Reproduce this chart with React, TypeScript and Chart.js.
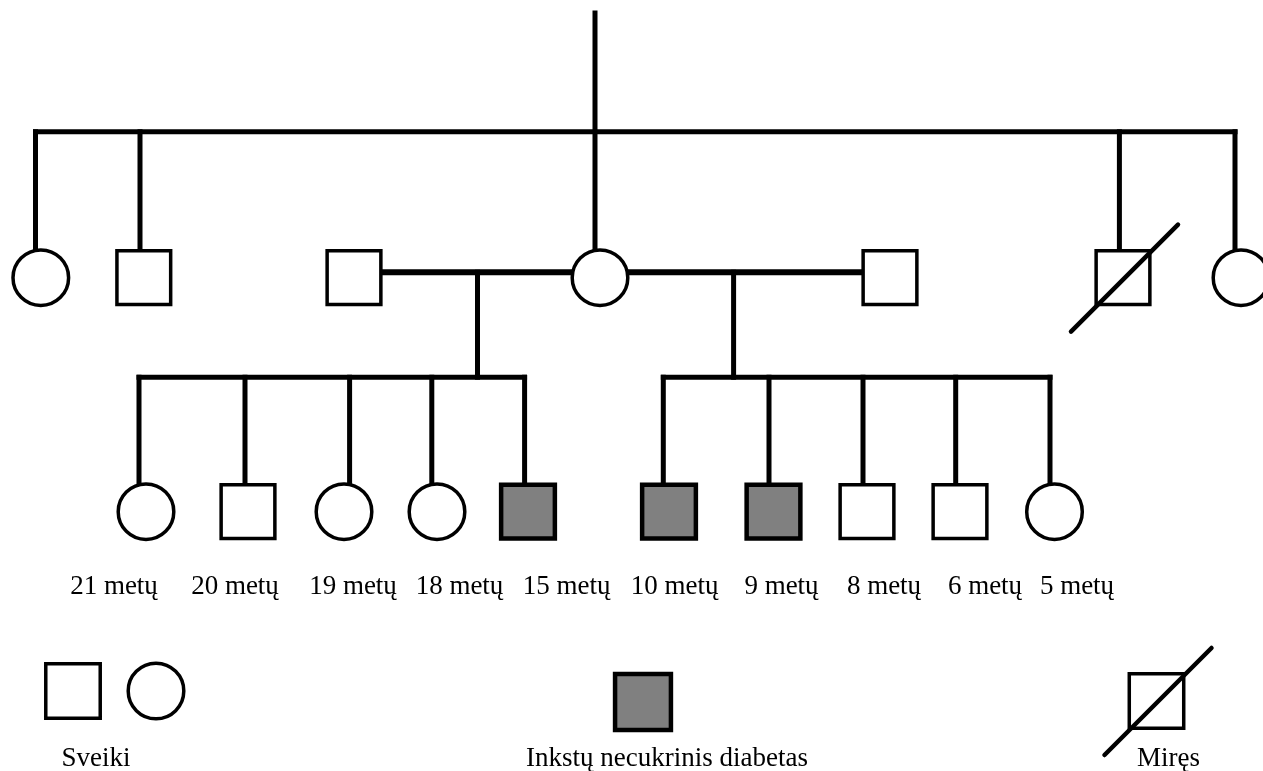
import React, { useEffect, useRef } from "react";
import { Chart, registerables } from "chart.js";

Chart.register(...registerables);

// ---------- Generation II: the mother, her siblings and her two partners ----------
const gen2Sex = ["F", "M", "M", "F", "M", "M", "F"];
const gen2X = [40.8, 143.8, 354, 600, 890, 1123, 1241];
const gen2Deceased = [false, false, false, false, false, true, false];
// x where each sibling hangs from the sibship line (null = married-in partner)
const gen2DropX = [35.5, 140, null, 595, null, 1119.4, 1235];

// ---------- Generation III: children of the two marriages ----------
const childLabels = ["21 metų", "20 metų", "19 metų", "18 metų", "15 metų", "10 metų", "9 metų", "8 metų", "6 metų", "5 metų"];
const childSex = ["F", "M", "F", "F", "M", "M", "M", "M", "M", "F"];
const childAffected = [false, false, false, false, true, true, true, false, false, false];
const childMarriage = [0, 0, 0, 0, 0, 1, 1, 1, 1, 1];
const childX = [146, 248, 344, 437, 528, 669, 773.5, 867, 960, 1054.5];
const childDropX = [139, 245, 349.6, 431.8, 524.6, 663.3, 769, 863, 955.7, 1050];
const childLabelX = [114, 235, 353, 459.5, 566.7, 674.7, 781.5, 884, 985, 1077];

// ---------- Marriages: partner index, mother index, descent line x ----------
const marriagePartner = [2, 4];
const marriageMother = [3, 3];
const marriageDescentX = [477.5, 733.6];

// ---------- Row levels ----------
const levelTop = 13;
const levelSib2 = 131.7;
const levelMarriage = 272.2;
const levelGen2 = 277.7;
const levelSib3 = 377.3;
const levelGen3 = 511.7;
const levelAge = 594;

// ---------- Legend ----------
const legendSymbolSex = ["M", "F", "M", "M"];
const legendSymbolFill = [false, false, true, false];
const legendSymbolDeceased = [false, false, false, true];
const legendSymbolX = [73, 156, 643, 1156.5];
const legendSymbolY = [691, 691, 702, 701];
const legendLabels = ["Sveiki", "Inkstų necukrinis diabetas", "Miręs"];
const legendLabelX = [96, 667, 1168.5];
const levelLegendText = 766;

// slash of a deceased symbol, offsets from its centre
const slashFrom = [-52, 54];
const slashTo = [55, -53];

const BLACK = "#000000";
const GREY = "#808080";
const WHITE = "#ffffff";

type Seg = { x1: number; y1: number; x2: number; y2: number; w: number };

function buildSegments(): Seg[] {
  const s: Seg[] = [];
  // line from the top down to the mother
  s.push({ x1: gen2DropX[3] as number, y1: levelTop, x2: gen2DropX[3] as number, y2: levelGen2, w: 5 });
  // sibship line of generation II
  const drops = gen2DropX.filter((v) => v !== null) as number[];
  s.push({ x1: Math.min(...drops), y1: levelSib2, x2: Math.max(...drops), y2: levelSib2, w: 5 });
  gen2DropX.forEach((d, i) => {
    if (d === null || i === 3) return;
    s.push({ x1: d, y1: levelSib2, x2: d, y2: levelGen2, w: 5 });
  });
  // marriages and descent lines
  marriagePartner.forEach((p, m) => {
    const a = gen2X[p];
    const b = gen2X[marriageMother[m]];
    s.push({ x1: Math.min(a, b), y1: levelMarriage, x2: Math.max(a, b), y2: levelMarriage, w: 6 });
    const dx = marriageDescentX[m];
    s.push({ x1: dx, y1: levelMarriage, x2: dx, y2: levelSib3, w: 5 });
    const kids = childDropX.filter((_, i) => childMarriage[i] === m);
    s.push({ x1: Math.min(...kids), y1: levelSib3, x2: Math.max(...kids), y2: levelSib3, w: 5 });
  });
  childDropX.forEach((d) => s.push({ x1: d, y1: levelSib3, x2: d, y2: levelGen3, w: 5 }));
  return s;
}

const SQUARE_R = 38; // rect point radius -> side = r * sqrt(2)
const CIRCLE_R = 27.8;

const textPlugin = {
  id: "pedigreeText",
  afterDatasetsDraw(chart: any) {
    const { ctx } = chart;
    const x = chart.scales.x;
    const y = chart.scales.y;
    ctx.save();
    ctx.fillStyle = BLACK;
    ctx.font = "27px 'Liberation Serif', 'Times New Roman', serif";
    ctx.textAlign = "center";
    ctx.textBaseline = "alphabetic";
    childLabels.forEach((t, i) => {
      ctx.fillText(t, x.getPixelForValue(childLabelX[i]), y.getPixelForValue(levelAge));
    });
    legendLabels.forEach((t, i) => {
      ctx.fillText(t, x.getPixelForValue(legendLabelX[i]), y.getPixelForValue(levelLegendText));
    });
    ctx.restore();
  },
};

export default function App() {
  const ref = useRef<HTMLCanvasElement | null>(null);

  useEffect(() => {
    if (!ref.current) return;
    const datasets: any[] = [];

    buildSegments().forEach((sg) => {
      datasets.push({
        data: [
          { x: sg.x1, y: sg.y1 },
          { x: sg.x2, y: sg.y2 },
        ],
        showLine: true,
        borderColor: BLACK,
        borderWidth: sg.w,
        borderCapStyle: "square",
        pointRadius: 0,
        fill: false,
        order: 3,
        clip: false,
      });
    });

    // generation II symbols
    datasets.push({
      data: gen2X.map((v) => ({ x: v, y: levelGen2 })),
      pointStyle: gen2Sex.map((s) => (s === "M" ? "rect" : "circle")),
      pointRadius: gen2Sex.map((s) => (s === "M" ? SQUARE_R : CIRCLE_R)),
      pointBackgroundColor: WHITE,
      pointBorderColor: BLACK,
      pointBorderWidth: 3.5,
      showLine: false,
      order: 2,
      clip: false,
    });

    // generation III symbols
    datasets.push({
      data: childX.map((v) => ({ x: v, y: levelGen3 })),
      pointStyle: childSex.map((s) => (s === "M" ? "rect" : "circle")),
      pointRadius: childSex.map((s) => (s === "M" ? SQUARE_R : CIRCLE_R)),
      pointBackgroundColor: childAffected.map((a) => (a ? GREY : WHITE)),
      pointBorderColor: BLACK,
      pointBorderWidth: childAffected.map((a) => (a ? 4.5 : 3.5)),
      showLine: false,
      order: 2,
      clip: false,
    });

    // legend symbols
    datasets.push({
      data: legendSymbolX.map((v, i) => ({ x: v, y: legendSymbolY[i] })),
      pointStyle: legendSymbolSex.map((s) => (s === "M" ? "rect" : "circle")),
      pointRadius: legendSymbolSex.map((s, i) => (s === "M" ? (legendSymbolFill[i] ? 39.5 : 38.5) : CIRCLE_R)),
      pointBackgroundColor: legendSymbolFill.map((f) => (f ? GREY : WHITE)),
      pointBorderColor: BLACK,
      pointBorderWidth: legendSymbolFill.map((f) => (f ? 4.5 : 3.5)),
      showLine: false,
      order: 2,
      clip: false,
    });

    // deceased slashes
    const slashCentres: { x: number; y: number }[] = [];
    gen2X.forEach((v, i) => {
      if (gen2Deceased[i]) slashCentres.push({ x: v, y: levelGen2 });
    });
    legendSymbolX.forEach((v, i) => {
      if (legendSymbolDeceased[i]) slashCentres.push({ x: v, y: legendSymbolY[i] });
    });
    slashCentres.forEach((c) => {
      datasets.push({
        data: [
          { x: c.x + slashFrom[0], y: c.y + slashFrom[1] },
          { x: c.x + slashTo[0], y: c.y + slashTo[1] },
        ],
        showLine: true,
        borderColor: BLACK,
        borderWidth: 4.5,
        borderCapStyle: "round",
        pointRadius: 0,
        fill: false,
        order: 1,
        clip: false,
      });
    });

    const chart = new Chart(ref.current, {
      type: "scatter",
      data: { datasets },
      options: {
        animation: false,
        responsive: true,
        maintainAspectRatio: false,
        events: [],
        layout: { padding: 0, autoPadding: false },
        plugins: {
          legend: { display: false },
          tooltip: { enabled: false },
        },
        scales: {
          x: { type: "linear", min: 0, max: 1263, display: false },
          y: { type: "linear", min: 0, max: 771, reverse: true, display: false },
        },
      },
      plugins: [textPlugin],
    } as any);

    return () => chart.destroy();
  }, []);

  return (
    <div style={{ position: "absolute", left: 0, top: 0, width: 1263, height: 771, background: "#ffffff" }}>
      <canvas ref={ref} />
    </div>
  );
}
